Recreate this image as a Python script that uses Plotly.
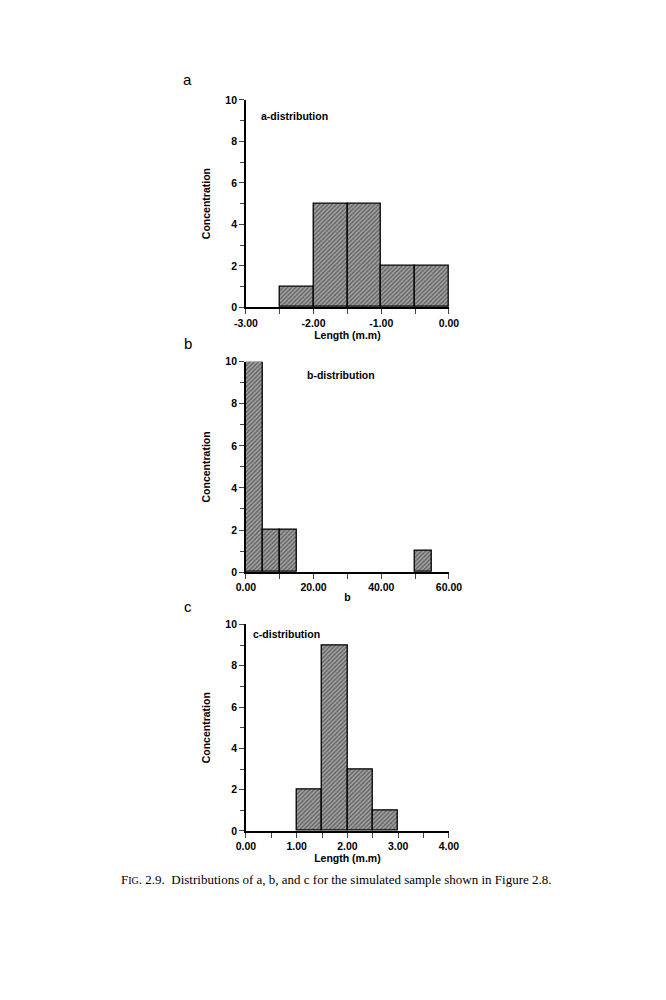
import plotly.graph_objects as go

# bin left edges, bin widths and counts
a_left = [-2.5, -2.0, -1.5, -1.0, -0.5]
a_count = [1, 5, 5, 2, 2]
a_width = 0.5

b_left = [0, 5, 10, 50]
b_count = [10, 2, 2, 1]
b_width = 5

c_left = [1.0, 1.5, 2.0, 2.5]
c_count = [2, 9, 3, 1]
c_width = 0.5

a_ticks = [-3, -2, -1, 0]
b_ticks = [0, 20, 40, 60]
c_ticks = [0, 1, 2, 3, 4]
y_ticks = [0, 2, 4, 6, 8, 10]

W, H = 666, 1000
SANS = "Liberation Sans"
SERIF = "Liberation Serif"

HATCH = dict(shape="/", fgcolor="#222222", bgcolor="#a6a6a6", size=3, solidity=0.5)


def px_x(p):
    return p / W


def px_y(p):
    return 1 - p / H


fig = go.Figure()
panels = [
    ("", a_left, a_count, a_width, [-3, 0], a_ticks, 0.5, 95, 305, "Length (m.m)"),
    ("2", b_left, b_count, b_width, [0, 60], b_ticks, 10, 360, 573, "b"),
    ("3", c_left, c_count, c_width, [0, 4], c_ticks, 0.5, 626, 835, "Length (m.m)"),
]
for sfx, left, cnt, wd, xr, xt, xminor, ytop, ybot, xtitle in panels:
    fig.add_trace(go.Bar(
        x=left, y=cnt, width=wd, offset=0,
        marker=dict(color="#a6a6a6", pattern=HATCH, line=dict(color="black", width=1.3)),
        xaxis="x" + sfx, yaxis="y" + sfx, showlegend=False, hoverinfo="skip",
    ))
    axfont = dict(family=SANS, size=10.5, color="black", weight="bold")
    ttl = dict(family=SANS, size=10.5, color="black", weight="bold")
    fig.layout["xaxis" + sfx] = dict(
        domain=[px_x(243), px_x(454)], range=xr, anchor="y" + sfx,
        tickvals=xt, ticktext=[f"{v:.2f}" for v in xt],
        ticks="outside", ticklen=5, tickwidth=1.2,
        minor=dict(dtick=xminor, tick0=xr[0], ticks="outside", ticklen=5, tickwidth=1.2),
        showline=True, linecolor="black", linewidth=1.5, showgrid=False, zeroline=False,
        tickfont=axfont, fixedrange=True,
        title=dict(text=xtitle, font=ttl, standoff=1),
    )
    fig.layout["yaxis" + sfx] = dict(
        domain=[px_y(ybot), px_y(ytop)], range=[0, 10], anchor="x" + sfx,
        tickvals=y_ticks, ticks="outside", ticklen=5, tickwidth=1.2,
        minor=dict(dtick=1, tick0=0, ticks="outside", ticklen=4, tickwidth=1.2),
        showline=True, linecolor="black", linewidth=1.5, showgrid=False, zeroline=False,
        tickfont=axfont, fixedrange=True,
        title=dict(text="Concentration", font=ttl, standoff=13),
    )

# panel letters, in-plot labels and caption
notes = [
    ("a", 182, 74, 15, SANS, "normal"),
    ("b", 183, 342, 15, SANS, "normal"),
    ("c", 183, 608, 15, SANS, "normal"),
    ("a-distribution", 294, 111, 10.5, SANS, "bold"),
    ("b-distribution", 342, 373, 10.5, SANS, "bold"),
    ("c-distribution", 285, 636, 10.5, SANS, "bold"),
]
for txt, x, y, sz, fam, wt in notes:
    fig.add_annotation(text=txt, x=px_x(x), y=px_y(y), xref="paper", yref="paper",
                       showarrow=False, xanchor="center", yanchor="middle",
                       font=dict(family=fam, size=sz, color="black", weight=wt))

fig.add_annotation(
    text="F<span style='font-size:10px'>IG</span>. 2.9.  Distributions of a, b, and c for the simulated sample shown in Figure 2.8.",
    x=px_x(337), y=px_y(884), xref="paper", yref="paper", showarrow=False,
    xanchor="center", yanchor="middle", font=dict(family=SERIF, size=13, color="black"))

fig.update_layout(
    width=W, height=H, margin=dict(l=0, r=0, t=0, b=0),
    paper_bgcolor="white", plot_bgcolor="white", bargap=0,
)

fig.write_html("out.html", config={"displayModeBar": False},
               post_script="document.body.style.margin='0';document.body.style.overflow='hidden';")
